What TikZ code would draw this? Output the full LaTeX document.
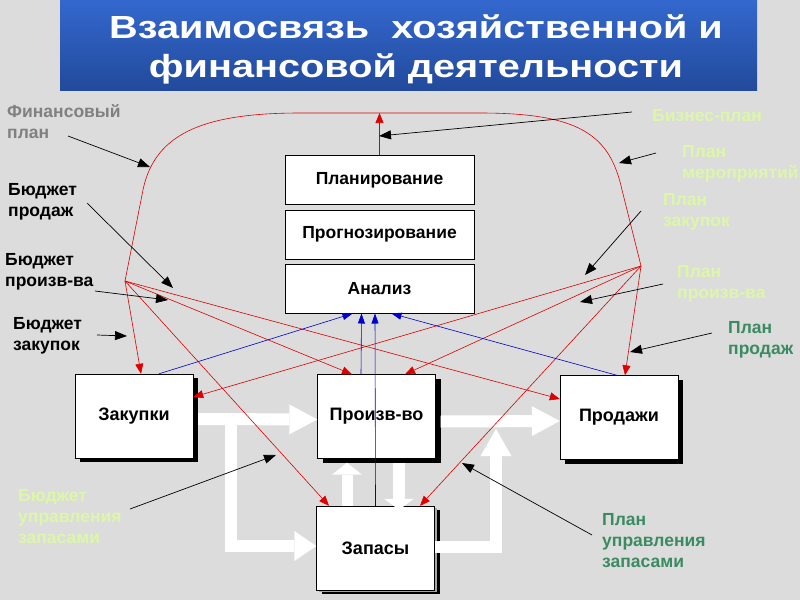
\documentclass[tikz,border=0pt]{standalone}
\usepackage{fontspec}
\setmainfont{Liberation Sans}
\newfontfamily\titlefont[FakeStretch=1.24]{Liberation Sans}
\usetikzlibrary{positioning,arrows.meta,shadows}

\definecolor{slidegray}{RGB}{220,220,220}
\definecolor{bandtop}{RGB}{52,104,206}
\definecolor{bandbottom}{RGB}{34,74,156}
\definecolor{paletext}{RGB}{222,246,168}
\definecolor{notegreen}{RGB}{58,138,98}
\definecolor{notegray}{RGB}{128,128,128}
\definecolor{linkred}{RGB}{222,0,0}
\definecolor{feedblue}{RGB}{0,0,205}

\begin{document}
\begin{tikzpicture}[x=1pt, y=-1pt,
    every node/.style={inner sep=0pt},
    banner/.style={top color=bandtop, bottom color=bandbottom, minimum width=697pt, minimum height=90pt},
    heading/.style={align=center, text=white, font=\titlefont\fontsize{32}{39}\selectfont\bfseries},
    stack/.style={draw, fill=white, minimum width=189pt, minimum height=49pt, font=\fontsize{17.5}{20}\selectfont\bfseries},
    block/.style={draw, fill=white, minimum width=118pt, minimum height=84pt, font=\fontsize{18}{21}\selectfont\bfseries, drop shadow={shadow xshift=5pt, shadow yshift=-4pt, fill=black, opacity=1}},
    note/.style={anchor=base west, align=left, font=\fontsize{17.5}{21}\selectfont\bfseries},
    flow/.style={draw=white, line width=12pt, -{Triangle[width=30pt, length=28pt, line width=0pt]}},
    link/.style={draw=linkred, line width=0.6pt, -{Triangle[length=10pt, width=8pt]}},
    feed/.style={draw=feedblue, line width=0.6pt, -{Triangle[length=10pt, width=7pt]}},
    pointer/.style={draw=black, line width=0.7pt, -{Triangle[length=12pt, width=9pt]}}]

    \fill[slidegray] (0,0) rectangle (800,600);
    \useasboundingbox (0,0) rectangle (800,600);

    \node[banner] (band) at (408.5,45) {};
    \node[heading] (title) at (416,49) {Взаимосвязь~~хозяйственной и\\финансовой деятельности};

    % planning stack
    \node[stack] (plan) at (379.5,180) {Планирование};
    \node[stack, below=5pt of plan] (prog) {Прогнозирование};
    \node[stack, below=5pt of prog] (anal) {Анализ};

    % business blocks
    \node[block] (zak) at (134,416) {Закупки};
    \node[block] (proizv) at (376.5,416.5) {Произв-во};
    \node[block] (prod) at (619,417.5) {Продажи};
    \node[block, drop shadow={shadow xshift=2pt, shadow yshift=-2pt, fill=black!35, opacity=1}] (zap) at (375.5,548) {Запасы};

    % material flows
    \coordinate (fork) at (231,419);
    \coordinate (riser) at (496,429);
    \draw[flow] ([shift={(5pt,-3pt)}]zak.east) -- ([yshift=-3pt]proizv.west);
    \draw[flow] ([shift={(5pt,-5pt)}]proizv.east) -- ([yshift=-3.5pt]prod.west);
    \draw[flow, -{Triangle[width=30pt, length=22pt, line width=0pt]}] (fork) |- ([yshift=2pt]zap.west);
    \draw[flow, -{Triangle[width=31pt, length=27pt, line width=0pt]}] ([yshift=1pt]zap.east) -| (riser);
    \draw[flow, line width=11pt, -{Triangle[width=30pt, length=12pt, line width=0pt]}] ([xshift=-28.5pt]zap.north) -- ([shift={(-29.5pt,-4pt)}]proizv.south);
    \draw[flow, line width=12pt, -{Triangle[width=30pt, length=11pt, line width=0pt]}] ([shift={(22.5pt,-4pt)}]proizv.south) -- ([shift={(23.5pt,-4pt)}]zap.north);

    % plans and budgets
    \coordinate (lhub) at (125,281);
    \coordinate (rhub) at (641,266);
    \coordinate (ctop) at (379.5,113);
    \draw[draw=linkred, line width=0.6pt] (lhub) -- (142,195) .. controls (152,135) and (200,113) .. (300,113) -- (ctop) -- (480,113) .. controls (580,113) and (610,135) .. (622,190) -- (rhub);
    \draw[link] (plan.north) -- (ctop);

    \draw[link] (lhub) -- ([xshift=7pt]zak.north);
    \draw[link] (lhub) -- ([xshift=-24.5pt]proizv.north);
    \draw[link] (lhub) -- ([yshift=18.5pt]prod.west);
    \draw[link] (lhub) -- ([xshift=-46.5pt]zap.north);
    \draw[link] (rhub) -- ([xshift=6pt]prod.north);
    \draw[link] (rhub) -- ([xshift=28.5pt]proizv.north);
    \draw[link] (rhub) -- ([yshift=19pt]zak.east);
    \draw[link] (rhub) -- ([xshift=44.5pt]zap.north);

    % feedback to analysis
    \draw[feed] ([xshift=25pt]zak.north) -- ([xshift=-27pt]anal.south);
    \draw[feed] ([xshift=-15.5pt]proizv.north) -- ([xshift=-18pt]anal.south);
    \draw[feed] (zap.north) -- ([xshift=-4.5pt]anal.south);
    \draw[feed] ([xshift=-2pt]prod.north) -- ([xshift=12pt]anal.south);

    % notes (placed at the baseline of their last line)
    \node[note, text=notegray] (finplan) at (7,138) {Финансовый\\план};
    \node[note] (bprod) at (8,216) {Бюджет\\продаж};
    \node[note] (bproizv) at (5,286) {Бюджет\\произв-ва};
    \node[note] (bzak) at (13,350) {Бюджет\\закупок};
    \node[note, text=paletext] (bizplan) at (652,121) {Бизнес-план};
    \node[note, text=paletext] (pmer) at (682,178) {План\\мероприятий};
    \node[note, text=paletext] (pzak) at (663,226) {План\\закупок};
    \node[note, text=paletext] (pproizv) at (677,298) {План\\произв-ва};
    \node[note, text=notegreen] (pprod) at (728,354) {План\\продаж};
    \node[note, text=paletext] (bzap) at (18,543) {Бюджет\\управления\\запасами};
    \node[note, text=notegreen] (pzap) at (602,567) {План\\управления\\запасами};

    \coordinate (finplan-from) at (68,136);   \coordinate (finplan-to) at (150,167);
    \coordinate (bprod-from) at (87,203);     \coordinate (bprod-to) at (173,288);
    \coordinate (bproizv-from) at (95,291);   \coordinate (bproizv-to) at (168,300);
    \coordinate (bzak-from) at (97,335);      \coordinate (bzak-to) at (127,336);
    \coordinate (bizplan-from) at (632,112);  \coordinate (bizplan-to) at (379,136);
    \coordinate (pmer-from) at (656,153);     \coordinate (pmer-to) at (619,163);
    \coordinate (pzak-from) at (641,211);     \coordinate (pzak-to) at (585,275);
    \coordinate (pproizv-from) at (663,284);  \coordinate (pproizv-to) at (580,302);
    \coordinate (pprod-from) at (712,333);    \coordinate (pprod-to) at (630,352);
    \coordinate (bzap-from) at (130,509);     \coordinate (bzap-to) at (276,455);
    \coordinate (pzap-from) at (592,535);     \coordinate (pzap-to) at (462,463);

    \draw[pointer] (finplan-from) -- (finplan-to);
    \draw[pointer] (bprod-from) -- (bprod-to);
    \draw[pointer] (bproizv-from) -- (bproizv-to);
    \draw[pointer] (bzak-from) -- (bzak-to);
    \draw[pointer] (bizplan-from) -- (bizplan-to);
    \draw[pointer] (pmer-from) -- (pmer-to);
    \draw[pointer] (pzak-from) -- (pzak-to);
    \draw[pointer] (pproizv-from) -- (pproizv-to);
    \draw[pointer] (pprod-from) -- (pprod-to);
    \draw[pointer] (bzap-from) -- (bzap-to);
    \draw[pointer] (pzap-from) -- (pzap-to);
\end{tikzpicture}
\end{document}
